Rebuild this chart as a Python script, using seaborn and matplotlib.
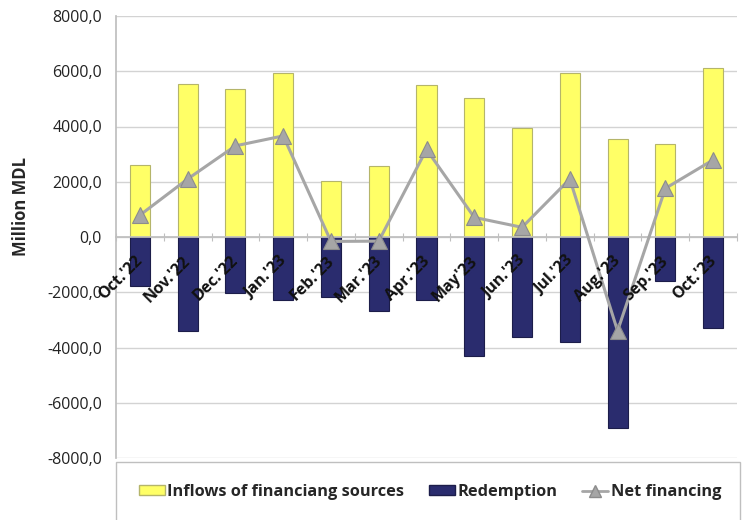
import numpy as np
import pandas as pd
import matplotlib
matplotlib.use("Agg")
import matplotlib.pyplot as plt
import matplotlib.transforms as mtransforms
from matplotlib.lines import Line2D
from matplotlib.patches import Patch, Rectangle
from matplotlib.ticker import FuncFormatter, FixedLocator
import seaborn as sns

months = ["Oct.'22", "Nov.'22", "Dec.'22", "Jan.'23", "Feb.'23", "Mar.'23",
          "Apr.'23", "May'23", "Jun.'23", "Jul.'23", "Aug.'23", "Sep.'23", "Oct.'23"]
inflows = [2600, 5530, 5350, 5950, 2030, 2570, 5500, 5020, 3960, 5950, 3560, 3380, 6130]
redemption = [-1780, -3400, -2040, -2270, -2170, -2680, -2280, -4310, -3620, -3800, -6930, -1590, -3310]
net_financing = [790, 2100, 3300, 3660, -160, -150, 3170, 710, 350, 2100, -3400, 1760, 2790]
y_ticks = [-8000, -6000, -4000, -2000, 0, 2000, 4000, 6000, 8000]

sns.set_theme(style="white")
plt.rcParams["font.family"] = ["Open Sans", "DejaVu Sans"]

YELLOW = "#FFFF66"
NAVY = "#2A2C6E"
GREY = "#A6A6A6"
W, H = 743, 520

fig = plt.figure(figsize=(W / 100, H / 100), dpi=100)
ax = fig.add_axes([116 / W, 1 - 458 / H, (737 - 116) / W, (458 - 16) / H])

df = pd.DataFrame({"month": months, "inflows": inflows,
                   "redemption": redemption, "net": net_financing})

sns.barplot(data=df, x="month", y="inflows", color=YELLOW, width=0.42,
            edgecolor="#B5B56A", linewidth=0.8, saturation=1, ax=ax)
sns.barplot(data=df, x="month", y="redemption", color=NAVY, width=0.42,
            edgecolor="#1C1D4A", linewidth=0.8, saturation=1, ax=ax)
sns.pointplot(data=df, x="month", y="net", color=GREY, markers="^",
              markersize=12, linewidth=2.2, markeredgecolor="#8C8C8C",
              markeredgewidth=0.8, ax=ax, zorder=5)

ax.set_ylim(-8000, 8000)
ax.set_xlim(-0.5, len(months) - 0.5)
ax.yaxis.set_major_locator(FixedLocator(y_ticks))
ax.yaxis.set_major_formatter(FuncFormatter(lambda v, p: f"{v:.1f}".replace(".", ",")))
ax.tick_params(axis="y", labelsize=11.5, pad=10, length=0, colors="#222222")
ax.yaxis.grid(True, color="#D3D3D3", linewidth=1)
ax.set_axisbelow(True)
ax.set_ylabel("Million MDL", fontsize=12, fontweight="bold")
ax.yaxis.set_label_coords((30 - 116) / (737 - 116), 0.57)
ax.set_xlabel("")

for side in ["top", "right"]:
    ax.spines[side].set_visible(False)
ax.spines["left"].set_color("#BFBFBF")
ax.spines["bottom"].set_position(("data", 0))
ax.spines["bottom"].set_color("#BFBFBF")

# tick marks at category boundaries on the zero line
ax.set_xticks(np.arange(-0.5, len(months), 1.0))
ax.set_xticklabels([])
ax.tick_params(axis="x", direction="inout", length=6, color="#BFBFBF", width=0.8, bottom=True)

offset = mtransforms.ScaledTranslation(-5 / 100, -16 / 100, fig.dpi_scale_trans)
for i, m in enumerate(months):
    ax.text(i, 0, m, transform=ax.transData + offset, rotation=45,
            rotation_mode="anchor", ha="right", va="top",
            fontsize=11.5, fontweight="bold", color="#111111", zorder=6)

# legend box below the plot area
fig.patches.append(Rectangle((116 / W, -0.05), (740 - 116) / W, 0.05 + (520 - 462) / H,
                             transform=fig.transFigure, facecolor="white",
                             edgecolor="#BFBFBF", linewidth=1, zorder=0))

handles = [
    Patch(facecolor=YELLOW, edgecolor="#B5B56A", label="Inflows of financiang sources"),
    Patch(facecolor=NAVY, edgecolor="#1C1D4A", label="Redemption"),
    Line2D([0], [0], color=GREY, linewidth=2, marker="^", markersize=8,
           markerfacecolor=GREY, markeredgecolor="#8C8C8C", label="Net financing"),
]
fig.legend(handles=handles, loc="center", ncol=3,
           bbox_to_anchor=(430 / W, 1 - 492 / H),
           frameon=False, prop={"weight": "bold", "size": 11.8},
           handlelength=1.6, handleheight=0.6, handletextpad=0.15,
           columnspacing=1.5, borderaxespad=0.0)

fig.savefig("out.png", dpi=100)
